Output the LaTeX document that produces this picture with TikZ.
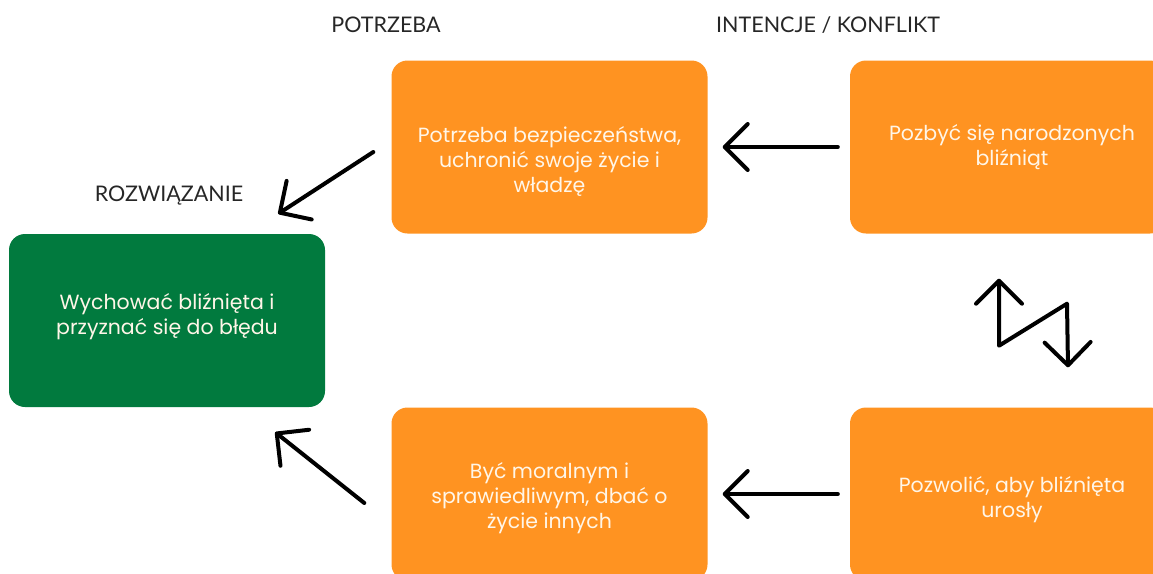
\documentclass[tikz,border=0pt]{standalone}
\usepackage{fontspec}
\setmainfont{Poppins}
\newfontfamily\headfont{Lato}
\usetikzlibrary{arrows.meta,positioning}
\definecolor{boxorange}{HTML}{FF9321}
\definecolor{boxgreen}{HTML}{017A3E}
\definecolor{boxtext}{HTML}{FFF6E8}

\begin{document}
\begin{tikzpicture}[x=1pt, y=-1pt,
    box/.style={fill=boxorange, rounded corners=16pt,
                minimum width=316pt, minimum height=173pt, inner sep=0pt},
    boxlabel/.style={align=center, text=boxtext, inner sep=0pt,
                font=\fontsize{20.5}{25}\selectfont},
    head/.style={font=\headfont\fontsize{21.5}{25}\selectfont, text=black!85},
    arr/.style={line width=4pt, line cap=round, line join=round,
                -{Straight Barb[length=23pt, width=46pt, round]}}
  ]
  \useasboundingbox (0,0) rectangle (1153,573);
  \clip (0,0) rectangle (1153,573);

  % boxes
  \node[box] (need)     at (549.5,147) {};
  \node[box] (intent)   at (1008,147)  {};
  \node[box, fill=boxgreen] (solution) at (167,320.5) {};
  \node[box] (moral)    at (549.5,494) {};
  \node[box] (allow)    at (1008,494)  {};

  % box texts
  \node[boxlabel] (needtext)     at ([yshift=-14pt]need.center)     {Potrzeba bezpieczeństwa,\\uchronić swoje życie i\\władzę};
  \node[boxlabel] (intenttext)   at ([xshift=4pt]intent.center)     {Pozbyć się narodzonych\\bliźniąt};
  \node[boxlabel] (solutiontext) at ([yshift=4pt]solution.center)   {Wychować bliźnięta i\\przyznać się do błędu};
  \node[boxlabel] (moraltext)    at ([yshift=-4pt]moral.center)     {Być moralnym i\\sprawiedliwym, dbać o\\życie innych};
  \node[boxlabel] (allowtext)    at ([shift={(4,6)}]allow.center)   {Pozwolić, aby bliźnięta\\urosły};

  % headings
  \node[head] (needhead)     at (386,25)  {POTRZEBA};
  \node[head] (intenthead)   at (828,25)  {INTENCJE / KONFLIKT};
  \node[head] (solutionhead) at (169,196) {ROZWIĄZANIE};

  % arrows
  \draw[arr] ([xshift=-12pt]intent.west) -- ([xshift=15pt]need.east);
  \draw[arr] ([xshift=-12pt]allow.west) -- ([xshift=15pt]moral.east);
  \draw[arr] ([shift={(-18,5)}]need.west) -- ([shift={(-47,-20)}]solution.north east);
  \draw[arr] ([shift={(-27,9)}]moral.west) -- ([shift={(-50,25)}]solution.south east);
  \draw[arr, {Straight Barb[length=23pt, width=46pt, round]}-{Straight Barb[length=23pt, width=46pt, round]}]
    ([shift={(-9,45)}]intent.south) -- ([shift={(-9,112)}]intent.south)
    -- ([shift={(59,70)}]intent.south) -- ([shift={(60,-40)}]allow.north);
\end{tikzpicture}
\end{document}
